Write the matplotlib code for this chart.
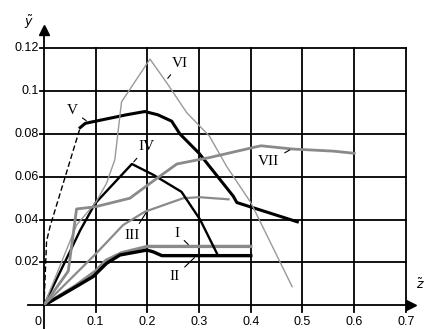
import matplotlib.pyplot as plt

# curves (z, y)
i_x = [0, 0.06, 0.10, 0.12, 0.15, 0.20, 0.40]
i_y = [0, 0.009, 0.016, 0.021, 0.0245, 0.0275, 0.0275]

ii_x = [0, 0.057, 0.095, 0.121, 0.147, 0.199, 0.211, 0.228, 0.40]
ii_y = [0, 0.008, 0.0134, 0.0196, 0.0235, 0.0258, 0.025, 0.0232, 0.0232]

iii_x = [0, 0.10, 0.153, 0.195, 0.269, 0.30, 0.357]
iii_y = [0, 0.024, 0.0375, 0.0437, 0.050, 0.0505, 0.0495]

iv_x = [0, 0.07, 0.099, 0.170, 0.211, 0.266, 0.302, 0.336]
iv_y = [0, 0.035, 0.0476, 0.066, 0.061, 0.053, 0.040, 0.0235]

v_x = [0, 0.005, 0.012, 0.070, 0.08, 0.12, 0.16, 0.195, 0.22, 0.247, 0.263, 0.30, 0.366, 0.373, 0.49]
v_y = [0, 0.030, 0.037, 0.083, 0.085, 0.087, 0.089, 0.0905, 0.089, 0.086, 0.080, 0.071, 0.051, 0.048, 0.039]

vi_x = [0, 0.063, 0.10, 0.121, 0.137, 0.150, 0.205, 0.24, 0.276, 0.32, 0.353, 0.40, 0.48]
vi_y = [0, 0.0375, 0.048, 0.057, 0.068, 0.095, 0.115, 0.103, 0.090, 0.079, 0.065, 0.048, 0.0087]

vii_x = [0, 0.047, 0.063, 0.099, 0.166, 0.211, 0.257, 0.32, 0.41, 0.42, 0.48, 0.56, 0.60]
vii_y = [0, 0.016, 0.045, 0.046, 0.050, 0.058, 0.066, 0.069, 0.074, 0.0745, 0.073, 0.072, 0.071]

x_ticks = [0.1, 0.2, 0.3, 0.4, 0.5, 0.6, 0.7]
x_labels = ['0.1', '0.2', '0.3', '0.4', '0.5', '0.6', '0.7']
y_ticks = [0.02, 0.04, 0.06, 0.08, 0.1, 0.12]
y_labels = ['0.02', '0.04', '0.06', '0.08', '0.1', '0.12']

plt.rcParams['font.family'] = ['Liberation Sans Narrow', 'Liberation Sans', 'DejaVu Sans']
fig = plt.figure(figsize=(4.25, 3.29), dpi=100)
ax = fig.add_axes([0.1035, 0.072, 0.8515, 0.781])
ax.set_xlim(0, 0.7)
ax.set_ylim(0, 0.12)
for s in ax.spines.values():
    s.set_visible(False)
ax.set_xticks([])
ax.set_yticks([])

# grid, drawn a little past the axes like in the original
for t in x_ticks:
    ax.plot([t, t], [-0.003, 0.12], color='black', lw=1.3, clip_on=False, zorder=1)
for t in y_ticks:
    ax.plot([-0.008, 0.7], [t, t], color='black', lw=1.3, clip_on=False, zorder=1)

# axes with arrows
ax.plot([0, 0], [-0.011, 0.127], color='black', lw=1.3, clip_on=False, zorder=1)
ax.plot([-0.031, 0.705], [0, 0], color='black', lw=1.3, clip_on=False, zorder=1)
ax.plot(0, 0.1285, marker='^', color='black', markersize=7, clip_on=False)
ax.plot(0.709, 0, marker='>', color='black', markersize=7, clip_on=False)

for t, lab in zip(x_ticks, x_labels):
    ax.text(t, -0.0108, lab, ha='center', va='bottom', fontsize=9)
for t, lab in zip(y_ticks, y_labels):
    ax.text(-0.0095, t, lab, ha='right', va='center', fontsize=9)
ax.text(-0.005, -0.0108, '0', ha='right', va='bottom', fontsize=9)
ax.text(-0.03, 0.132, r'$\tilde{y}$', ha='center', va='center', fontsize=9)
ax.text(0.72, 0.006, r'$\tilde{z}$', ha='left', va='bottom', fontsize=9)

gray = '#8a8a8a'
ax.plot(i_x, i_y, color=gray, lw=2.4, zorder=3)
ax.plot(ii_x, ii_y, color='black', lw=2.4, zorder=3)
ax.plot(iii_x, iii_y, color=gray, lw=1.6, zorder=3)
ax.plot(iv_x, iv_y, color='black', lw=1.7, zorder=3)
ax.plot(v_x[:4], v_y[:4], color='black', lw=1.0, linestyle=(0, (4, 2)), zorder=3)
ax.plot(v_x[3:], v_y[3:], color='black', lw=2.2, zorder=3)
ax.plot(vi_x, vi_y, color='#999999', lw=1.0, zorder=3)
ax.plot(vii_x, vii_y, color=gray, lw=2.0, zorder=3)

# curve labels with leader lines
serif = dict(family=['Liberation Serif', 'DejaVu Serif'], fontsize=11, ha='center', va='center')
lead = dict(arrowstyle='-', color='black', lw=0.8)
ax.annotate('VI', xy=(0.236, 0.105), xytext=(0.263, 0.113), arrowprops=lead, **serif)
ax.annotate('V', xy=(0.086, 0.0855), xytext=(0.054, 0.091), arrowprops=lead, **serif)
ax.annotate('IV', xy=(0.17, 0.066), xytext=(0.199, 0.074), arrowprops=lead, **serif)
ax.annotate('VII', xy=(0.48, 0.0732), xytext=(0.435, 0.067), arrowprops=lead, **serif)
ax.annotate('III', xy=(0.2, 0.0442), xytext=(0.17, 0.0328), arrowprops=lead, **serif)
ax.annotate('I', xy=(0.283, 0.0275), xytext=(0.257, 0.0336), arrowprops=lead, **serif)
ax.annotate('II', xy=(0.295, 0.0232), xytext=(0.253, 0.0134), arrowprops=lead, **serif)

fig.savefig('out.png', dpi=100)
